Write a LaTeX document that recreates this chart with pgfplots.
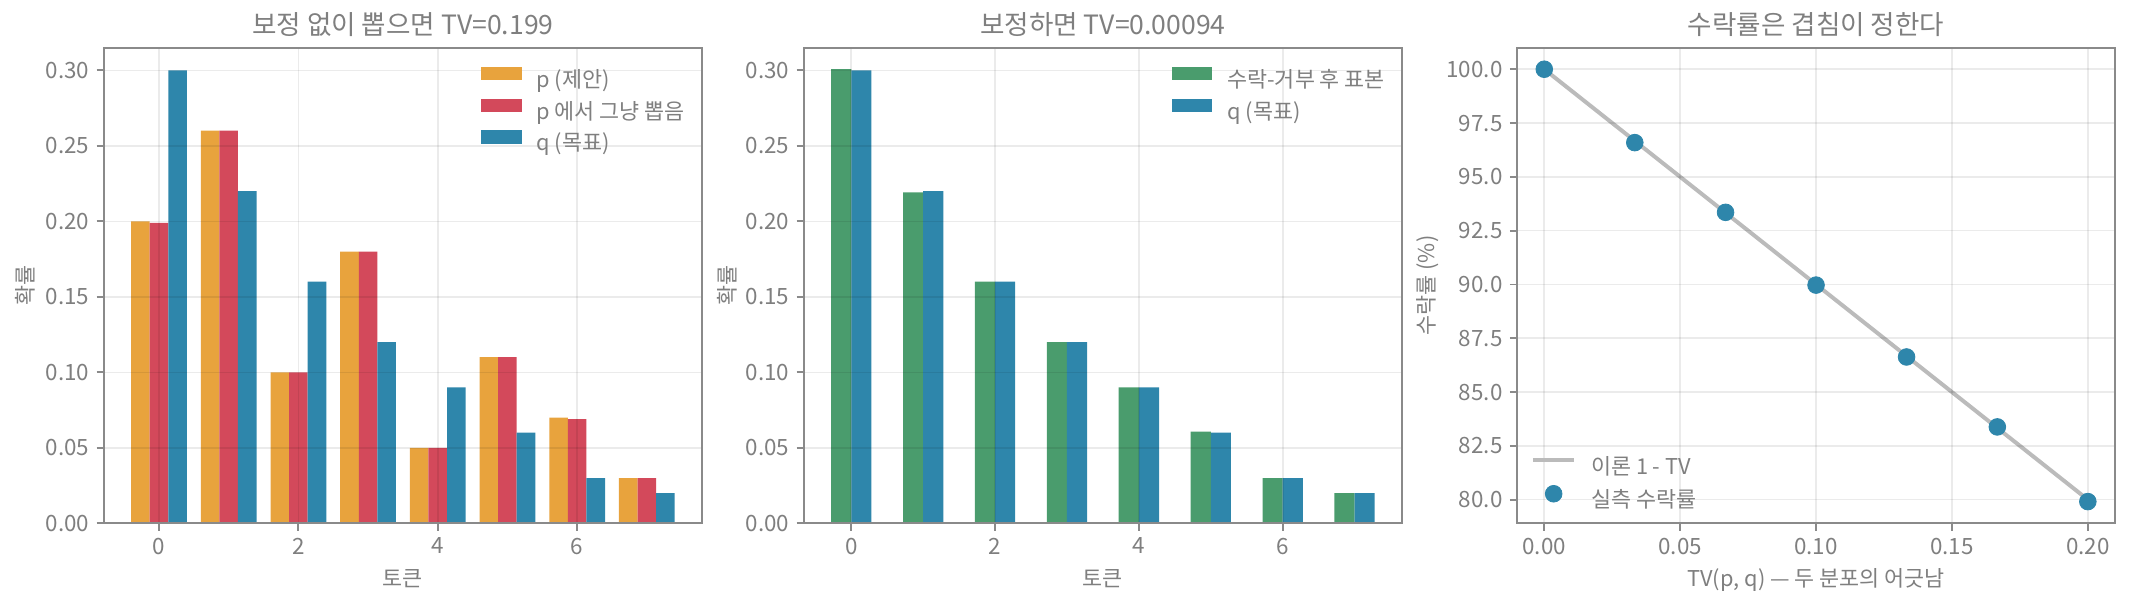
\documentclass[border=0pt]{standalone}
\usepackage{fontspec}
\setmainfont{Noto Sans CJK KR}
\usepackage{pgfplots}
\pgfplotsset{compat=1.18}
\usepackage{pgfplotstable}

\definecolor{cOrange}{HTML}{E8A33D}
\definecolor{cRed}{HTML}{D3495B}
\definecolor{cBlue}{HTML}{2E86AB}
\definecolor{cGreen}{HTML}{4A9C6D}
\definecolor{cLine}{HTML}{BBBBBB}
\definecolor{txt}{HTML}{7F7F7F}
\definecolor{spine}{HTML}{8A8A8A}

% token distributions: proposal p, plain sample from p, target q, accepted sample
\pgfplotstableread{
x p pdraw q acc
0 0.20 0.199 0.30 0.3008
1 0.26 0.260 0.22 0.2192
2 0.10 0.100 0.16 0.1600
3 0.18 0.180 0.12 0.1200
4 0.05 0.050 0.09 0.0900
5 0.11 0.110 0.06 0.0608
6 0.07 0.069 0.03 0.0300
7 0.03 0.030 0.02 0.0200
}\tokens

% measured acceptance rate vs TV
\pgfplotstableread{
tv rate
0.0000 100.00
0.0333 96.59
0.0667 93.35
0.1000 89.97
0.1333 86.63
0.1667 83.38
0.2000 79.91
}\accept

\pgfplotsset{
  panel/.style={
    scale only axis, width=287bp, height=228.3bp,
    axis on top,
    axis line style={draw=spine, line width=0.9bp},
    tick align=outside, tick pos=left,
    major tick length=3.5bp,
    major tick style={draw=spine, line width=0.9bp},
    grid=major,
    grid style={draw=black, draw opacity=0.08, line width=0.8bp},
    tick label style={font=\fontsize{10.8}{13}\selectfont, text=txt},
    /pgf/number format/assume math mode=true,
    scaled ticks=false,
    every axis title shift=0pt,
    title style={font=\fontsize{12.8}{15}\selectfont, text=txt,
      at={(axis description cs:0.5,1.027)}, anchor=base, inner sep=0pt},
    xlabel style={font=\fontsize{10.5}{12.5}\selectfont, text=txt,
      at={(axis description cs:0.5,-0.1336)}, anchor=base, inner sep=0pt},
    ylabel style={font=\fontsize{10.5}{12.5}\selectfont, text=txt,
      anchor=center, inner sep=0pt},
    legend cell align=left,
    legend style={draw=none, fill=none, inner sep=0pt,
      font=\fontsize{10.5}{12.5}\selectfont, text=txt, row sep=3.4bp,
      nodes={inner ysep=0pt, inner xsep=4bp, text height=8bp, text depth=2bp}},
  },
  barlegend/.style={
    legend image code/.code={\fill[##1] (0bp,0.4bp) rectangle (19.4bp,6.8bp);
      \path (22.6bp,3.6bp);}},
  prob/.style={
    ymin=0, ymax=0.315,
    ytick={0,0.05,0.1,0.15,0.2,0.25,0.3},
    xtick={0,2,4,6},
    yticklabel style={/pgf/number format/.cd, fixed, fixed zerofill, precision=2},
    legend style={at={(1,1)}, anchor=north east, xshift=-3.9bp, yshift=-9.1bp},
  },
}

\begin{document}
\begin{tikzpicture}
\useasboundingbox (0,0) rectangle (1022.4bp,292.8bp);

% left: sampling straight from p
\begin{axis}[panel, prob, barlegend, at={(49.9bp,41.6bp)}, anchor=south west,
  title={보정 없이 뽑으면 TV=0.199}, xlabel={토큰}, ylabel={확률},
  ylabel style={at={(axis description cs:-0.1324,0.5)}},
  xmin=-0.79, xmax=7.79]
\addplot[ybar, bar width=0.2667, bar shift=0pt, draw=none, fill=cOrange]
  table[x expr=\thisrow{x}-0.2667, y=p] {\tokens};
\addlegendentry{p (제안)}
\addplot[ybar, bar width=0.2667, bar shift=0pt, draw=none, fill=cRed]
  table[x=x, y=pdraw] {\tokens};
\addlegendentry{p 에서 그냥 뽑음}
\addplot[ybar, bar width=0.2667, bar shift=0pt, draw=none, fill=cBlue]
  table[x expr=\thisrow{x}+0.2667, y=q] {\tokens};
\addlegendentry{q (목표)}
\end{axis}

% middle: after accept/reject
\begin{axis}[panel, prob, barlegend, at={(385.9bp,41.6bp)}, anchor=south west,
  title={보정하면 TV=0.00094}, xlabel={토큰}, ylabel={확률},
  ylabel style={at={(axis description cs:-0.129,0.5)}},
  xmin=-0.658, xmax=7.658]
\addplot[ybar, bar width=0.28, bar shift=0pt, draw=none, fill=cGreen]
  table[x expr=\thisrow{x}-0.14, y=acc] {\tokens};
\addlegendentry{수락-거부 후 표본}
\addplot[ybar, bar width=0.28, bar shift=0pt, draw=none, fill=cBlue]
  table[x expr=\thisrow{x}+0.14, y=q] {\tokens};
\addlegendentry{q (목표)}
\end{axis}

% right: acceptance rate
\begin{axis}[panel, at={(728.2bp,41.6bp)}, anchor=south west,
  title={수락률은 겹침이 정한다}, xlabel={TV(p, q) — 두 분포의 어긋남},
  ylabel={수락률 (\%)},
  ylabel style={at={(axis description cs:-0.149,0.5)}},
  xmin=-0.01, xmax=0.21, ymin=78.9, ymax=101.0,
  xtick={0,0.05,0.1,0.15,0.2},
  ytick={80,82.5,85,87.5,90,92.5,95,97.5,100},
  xticklabel style={/pgf/number format/.cd, fixed, fixed zerofill, precision=2},
  yticklabel style={/pgf/number format/.cd, fixed, fixed zerofill, precision=1},
  legend image code/.code={\draw[mark repeat=2, mark phase=2, #1]
    plot coordinates {(0bp,3.6bp) (10bp,3.6bp) (20bp,3.6bp)};
    \path (23bp,3.6bp);},
  legend style={at={(0,0)}, anchor=south west, xshift=6.4bp, yshift=5.4bp}]
\addplot[draw=cLine, line width=1.9bp] coordinates {(0,100) (0.2,80)};
\addlegendentry{이론 1 - TV}
\addplot[only marks, mark=*, mark size=4bp, mark options={fill=cBlue, draw=cBlue}]
  table[x=tv, y=rate] {\accept};
\addlegendentry{실측 수락률}
\end{axis}
\end{tikzpicture}
\end{document}
